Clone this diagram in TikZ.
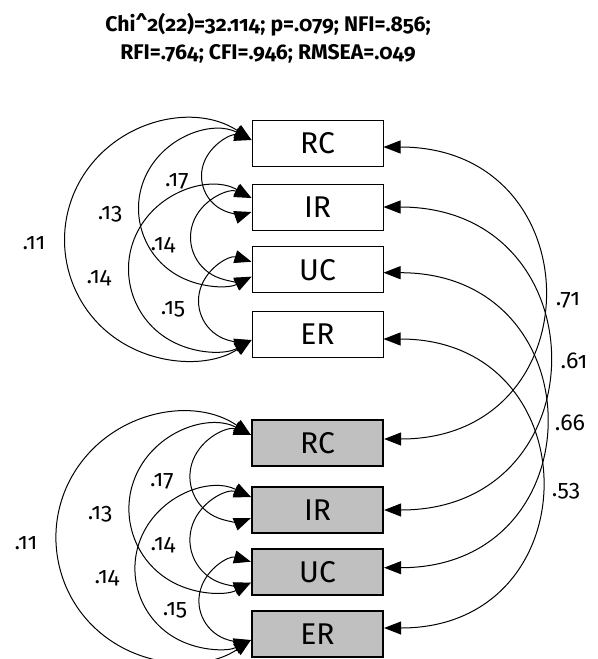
\documentclass[tikz,border=0pt]{standalone}
\usepackage{fontspec}
\setmainfont{Fira Sans}[Numbers=OldStyle]
\usetikzlibrary{arrows.meta,calc}
\definecolor{boxgray}{HTML}{C0C0C0}

\tikzset{
  var1/.style={draw,line width=0.5pt,minimum width=65.5pt,minimum height=23pt,inner sep=0pt,font=\fontsize{15}{17}\selectfont},
  var2/.style={var1,fill=boxgray,line width=1.1pt},
  cov/.style={<->,line width=0.5pt},
  coef/.style={inner sep=0pt,font=\fontsize{11.5}{13}\selectfont}
}

% arco circolare a sinistra: #1 punto alto, #2 punto basso, #3 sporgenza (px)
\newcommand{\covarc}[3]{%
  \draw[cov] let \p1=#1, \p2=#2,
    \n1={(\y1-\y2)/2}, \n2={#3*0.5},
    \n3={(\n2*\n2+\n1*\n1)/(2*\n2)},
    \n4={atan2(\n1,\n2-\n3)} in
    (\p1) arc[start angle=\n4, end angle=360-\n4, radius=\n3];
}

\begin{document}
\begin{tikzpicture}[x=0.5pt,y=0.5pt,>={Triangle[length=8.5pt,width=6.5pt]}]
\useasboundingbox (0,0) rectangle (598,-659);
\clip (0,0) rectangle (598,-659);

% --- Indici
\node[align=center,font=\bfseries\fontsize{10.6}{14}\selectfont] (fit) at (268,-38)
  {Chi\textasciicircum2(22)=32.114; p=.079; NFI=.856;\\RFI=.764; CFI=.946; RMSEA=.049};

% --- Variabili (tempo 1 e tempo 2)
\foreach \n/\lab/\ya/\yb in {rc/RC/143/443, ir/IR/207/510, uc/UC/269.7/571.7, er/ER/334/634}{
  \node[var1] (\n1) at (317.5,-\ya) {\lab};
  \node[var2] (\n2) at (317.5,-\yb) {\lab};
}

% --- Covarianze tempo 1
\covarc{([yshift=1.5pt]rc1.west)}{([yshift=-2.5pt]ir1.west)}{50}
\covarc{([yshift=4.5pt]ir1.west)}{([yshift=-3.5pt]uc1.west)}{61}
\covarc{([yshift=4pt]uc1.west)}{([yshift=-3pt]er1.west)}{53}
\covarc{([yshift=1.5pt]rc1.west)}{([yshift=-3.5pt]uc1.west)}{113}
\covarc{([yshift=4.5pt]ir1.west)}{([yshift=-3pt]er1.west)}{123}
\covarc{([yshift=1.5pt]rc1.west)}{([yshift=-3pt]er1.west)}{187}

% --- Covarianze tempo 2
\covarc{([yshift=4pt]rc2.west)}{([yshift=-4pt]ir2.west)}{61}
\covarc{([yshift=6.5pt]ir2.west)}{([yshift=-5.5pt]uc2.west)}{61}
\covarc{([yshift=5pt]uc2.west)}{([yshift=-3pt]er2.west)}{52}
\covarc{([yshift=4pt]rc2.west)}{([yshift=-5.5pt]uc2.west)}{122}
\covarc{([yshift=6.5pt]ir2.west)}{([yshift=-3pt]er2.west)}{116}
\covarc{([yshift=4pt]rc2.west)}{([yshift=-3pt]er2.west)}{195}

% --- Stabilita' tra tempi
\draw[cov] ([yshift=-2pt]rc1.east) to[out=0,in=0,looseness=1.85] ([yshift=2pt]rc2.east);
\draw[cov] (ir1.east) to[out=0,in=0,looseness=1.84] (ir2.east);
\draw[cov] ([yshift=-1.5pt]uc1.east) to[out=0,in=0,looseness=1.85] ([yshift=2pt]uc2.east);
\draw[cov] ([yshift=-2.5pt]er1.east) to[out=0,in=0,looseness=1.84] ([yshift=3pt]er2.east);

% --- Etichette
\node[coef] (a17) at (177,-181) {.17};
\node[coef] (a13) at (110,-214) {.13};
\node[coef] (a11) at (34,-243) {.11};
\node[coef] (a14) at (163,-245) {.14};
\node[coef] (b14) at (99,-278) {.14};
\node[coef] (a15) at (173,-309) {.15};

\node[coef] (c17) at (162,-481) {.17};
\node[coef] (c13) at (100,-514) {.13};
\node[coef] (c11) at (26,-543) {.11};
\node[coef] (c14) at (163,-545) {.14};
\node[coef] (d14) at (107,-578) {.14};
\node[coef] (c15) at (175,-610) {.15};

\node[coef] (s71) at (568,-300) {.71};
\node[coef] (s61) at (574,-361) {.61};
\node[coef] (s66) at (570,-423) {.66};
\node[coef] (s53) at (566,-491) {.53};

\end{tikzpicture}
\end{document}
